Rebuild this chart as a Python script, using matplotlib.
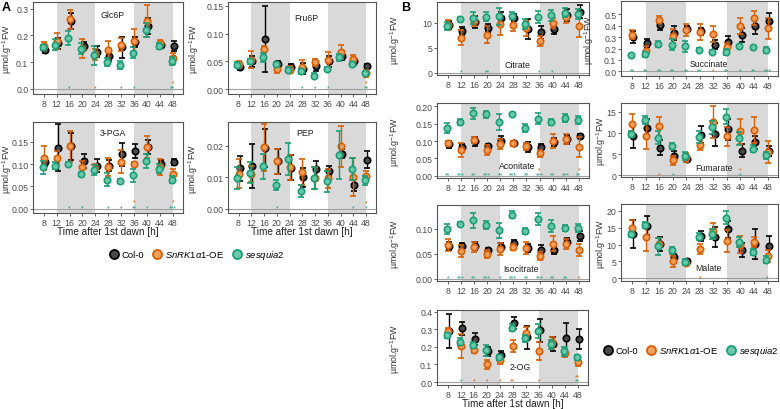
import matplotlib.pyplot as plt
from matplotlib.lines import Line2D

plt.rcParams['font.family'] = ['Liberation Sans', 'DejaVu Sans']
plt.rcParams['mathtext.fontset'] = 'custom'
plt.rcParams['mathtext.it'] = 'Liberation Sans:italic'
plt.rcParams['mathtext.rm'] = 'Liberation Sans'

times = [8, 12, 16, 20, 24, 28, 32, 36, 40, 44, 48]
xticks = times
dark_periods = [(12, 24), (36, 48)]

# Glc6P
glc6p_col = [0.146, 0.171, 0.255, 0.161, 0.139, 0.124, 0.155, 0.176, 0.235, 0.164, 0.160]
glc6p_col_err = [0.010, 0.020, 0.030, 0.015, 0.020, 0.020, 0.040, 0.020, 0.030, 0.010, 0.018]
glc6p_oe = [0.160, 0.180, 0.260, 0.150, 0.130, 0.145, 0.165, 0.180, 0.255, 0.170, 0.115]
glc6p_oe_err = [0.015, 0.030, 0.035, 0.035, 0.020, 0.035, 0.025, 0.045, 0.060, 0.012, 0.020]
glc6p_ses = [0.155, 0.165, 0.190, 0.150, 0.125, 0.100, 0.090, 0.135, 0.220, 0.160, 0.105]
glc6p_ses_err = [0.010, 0.020, 0.025, 0.020, 0.035, 0.015, 0.015, 0.020, 0.025, 0.010, 0.015]

# Fru6P
fru6p_col = [0.040, 0.050, 0.090, 0.045, 0.040, 0.037, 0.041, 0.050, 0.060, 0.050, 0.042]
fru6p_col_err = [0.005, 0.010, 0.060, 0.005, 0.006, 0.010, 0.008, 0.010, 0.008, 0.006, 0.004]
fru6p_oe = [0.045, 0.053, 0.073, 0.037, 0.035, 0.040, 0.048, 0.053, 0.067, 0.055, 0.028]
fru6p_oe_err = [0.005, 0.015, 0.005, 0.008, 0.006, 0.012, 0.006, 0.013, 0.013, 0.006, 0.006]
fru6p_ses = [0.044, 0.050, 0.057, 0.045, 0.035, 0.032, 0.024, 0.036, 0.057, 0.045, 0.028]
fru6p_ses_err = [0.004, 0.005, 0.008, 0.004, 0.004, 0.005, 0.004, 0.004, 0.006, 0.004, 0.003]

# 3-PGA
pga_col = [0.105, 0.137, 0.140, 0.107, 0.097, 0.097, 0.122, 0.130, 0.139, 0.100, 0.105]
pga_col_err = [0.010, 0.053, 0.030, 0.015, 0.015, 0.012, 0.025, 0.015, 0.015, 0.010, 0.006]
pga_oe = [0.114, 0.115, 0.140, 0.093, 0.090, 0.094, 0.106, 0.100, 0.139, 0.093, 0.078]
pga_oe_err = [0.027, 0.015, 0.035, 0.015, 0.010, 0.020, 0.025, 0.005, 0.025, 0.018, 0.012]
pga_ses = [0.093, 0.096, 0.100, 0.078, 0.087, 0.065, 0.062, 0.075, 0.107, 0.090, 0.065]
pga_ses_err = [0.015, 0.008, 0.005, 0.005, 0.012, 0.015, 0.005, 0.015, 0.015, 0.010, 0.008]

# PEP
pep_col = [0.0128, 0.0135, 0.0192, 0.0150, 0.0130, 0.0100, 0.0127, 0.0120, 0.0175, 0.0077, 0.0155]
pep_col_err = [0.0040, 0.0070, 0.0060, 0.0040, 0.0040, 0.0030, 0.0025, 0.0015, 0.0015, 0.0020, 0.0027]
pep_oe = [0.0112, 0.0110, 0.0195, 0.0150, 0.0132, 0.0117, 0.0098, 0.0097, 0.0198, 0.0100, 0.0105]
pep_oe_err = [0.0045, 0.0025, 0.0075, 0.0040, 0.0040, 0.0040, 0.0035, 0.0030, 0.0065, 0.0060, 0.0015]
pep_ses = [0.0098, 0.0115, 0.0135, 0.0075, 0.0157, 0.0057, 0.0097, 0.0088, 0.0170, 0.0125, 0.0090]
pep_ses_err = [0.0035, 0.0032, 0.0040, 0.0015, 0.0050, 0.0020, 0.0035, 0.0033, 0.0075, 0.0035, 0.0015]

# Citrate
cit_col = [9.5, 8.4, 10.2, 9.0, 10.9, 11.0, 8.7, 8.1, 8.8, 11.5, 12.2]
cit_col_err = [0.8, 0.8, 1.2, 0.8, 1.3, 0.7, 2.0, 1.3, 1.0, 1.2, 1.3]
cit_oe = [9.6, 7.0, 10.3, 7.6, 9.7, 9.6, 8.9, 6.3, 9.9, 11.2, 9.4]
cit_oe_err = [1.0, 1.5, 1.0, 1.7, 2.1, 1.3, 1.5, 1.0, 1.0, 1.2, 2.2]
cit_ses = [9.3, 10.8, 10.9, 11.2, 11.3, 11.4, 9.7, 11.1, 11.5, 12.0, 11.7]
cit_ses_err = [0.8, 0.4, 1.2, 0.9, 1.7, 0.7, 1.0, 1.2, 1.1, 0.9, 1.0]

# Succinate
suc_col = [0.300, 0.245, 0.405, 0.335, 0.370, 0.350, 0.235, 0.255, 0.320, 0.400, 0.440]
suc_col_err = [0.050, 0.035, 0.040, 0.060, 0.030, 0.030, 0.040, 0.050, 0.060, 0.070, 0.070]
suc_oe = [0.320, 0.180, 0.450, 0.310, 0.360, 0.345, 0.330, 0.210, 0.400, 0.465, 0.375]
suc_oe_err = [0.040, 0.040, 0.030, 0.060, 0.050, 0.070, 0.070, 0.040, 0.070, 0.060, 0.090]
suc_ses = [0.145, 0.150, 0.240, 0.235, 0.220, 0.190, 0.170, 0.170, 0.220, 0.210, 0.190]
suc_ses_err = [0.010, 0.020, 0.030, 0.050, 0.050, 0.015, 0.020, 0.030, 0.015, 0.015, 0.025]

# Aconitate
aco_col = [0.090, 0.083, 0.100, 0.087, 0.100, 0.093, 0.083, 0.083, 0.097, 0.105, 0.114]
aco_col_err = [0.010, 0.008, 0.013, 0.003, 0.014, 0.005, 0.015, 0.008, 0.012, 0.013, 0.006]
aco_oe = [0.093, 0.073, 0.103, 0.074, 0.091, 0.093, 0.085, 0.065, 0.100, 0.105, 0.083]
aco_oe_err = [0.008, 0.020, 0.010, 0.015, 0.015, 0.008, 0.010, 0.010, 0.020, 0.014, 0.030]
aco_ses = [0.137, 0.155, 0.180, 0.178, 0.155, 0.177, 0.137, 0.165, 0.155, 0.167, 0.160]
aco_ses_err = [0.015, 0.010, 0.015, 0.010, 0.022, 0.005, 0.012, 0.015, 0.010, 0.012, 0.012]

# Fumarate
fum_col = [9.3, 11.2, 6.5, 4.5, 3.8, 9.5, 9.6, 10.8, 5.8, 7.8, 5.7]
fum_col_err = [2.8, 2.0, 1.8, 1.2, 0.7, 2.0, 2.8, 2.5, 1.5, 1.5, 1.2]
fum_oe = [12.0, 9.3, 11.5, 3.5, 4.2, 7.2, 12.5, 9.2, 10.3, 10.6, 5.5]
fum_oe_err = [2.5, 3.0, 2.3, 1.0, 1.0, 1.2, 3.8, 2.2, 3.0, 3.0, 2.5]
fum_ses = [9.6, 13.0, 8.8, 7.0, 4.5, 9.0, 11.3, 13.8, 8.7, 6.3, 4.7]
fum_ses_err = [0.7, 1.0, 1.5, 0.7, 1.0, 1.5, 1.5, 1.7, 1.5, 0.8, 0.8]

# Isocitrate
iso_col = [0.065, 0.065, 0.066, 0.057, 0.063, 0.072, 0.062, 0.058, 0.058, 0.074, 0.086]
iso_col_err = [0.008, 0.006, 0.008, 0.005, 0.008, 0.006, 0.008, 0.010, 0.008, 0.008, 0.010]
iso_oe = [0.068, 0.055, 0.063, 0.049, 0.060, 0.064, 0.061, 0.046, 0.070, 0.070, 0.058]
iso_oe_err = [0.012, 0.012, 0.010, 0.008, 0.012, 0.006, 0.012, 0.008, 0.015, 0.010, 0.012]
iso_ses = [0.099, 0.110, 0.117, 0.107, 0.097, 0.128, 0.095, 0.119, 0.105, 0.101, 0.101]
iso_ses_err = [0.010, 0.004, 0.015, 0.008, 0.015, 0.007, 0.006, 0.012, 0.012, 0.006, 0.008]

# Malate
mal_col = [13.1, 15.6, 10.2, 6.3, 5.2, 12.5, 12.2, 14.5, 8.4, 10.2, 9.5]
mal_col_err = [4.2, 2.7, 2.0, 0.8, 0.6, 1.5, 3.0, 2.5, 2.0, 4.5, 3.0]
mal_oe = [15.0, 12.2, 10.3, 5.0, 4.6, 8.7, 14.0, 11.1, 10.0, 10.8, 6.5]
mal_oe_err = [2.3, 4.0, 1.5, 1.7, 0.8, 1.5, 2.5, 3.3, 2.5, 1.5, 1.8]
mal_ses = [13.0, 15.8, 9.5, 8.3, 4.8, 12.3, 13.0, 18.0, 10.8, 7.8, 5.5]
mal_ses_err = [0.8, 0.8, 2.5, 1.0, 1.0, 1.0, 1.5, 1.8, 1.5, 0.8, 1.0]

# 2-OG
og_col = [0.290, 0.305, 0.245, 0.175, 0.155, 0.335, 0.255, 0.295, 0.215, 0.250, 0.245]
og_col_err = [0.095, 0.035, 0.035, 0.025, 0.020, 0.035, 0.065, 0.065, 0.040, 0.085, 0.055]
og_oe = [0.290, 0.205, 0.185, 0.100, 0.125, 0.205, 0.280, 0.175, 0.225, 0.165, 0.115]
og_oe_err = [0.020, 0.070, 0.020, 0.025, 0.025, 0.035, 0.035, 0.050, 0.030, 0.025, 0.025]
og_ses = [0.265, 0.230, 0.210, 0.180, 0.140, 0.310, 0.250, 0.290, 0.215, 0.175, 0.140]
og_ses_err = [0.015, 0.020, 0.015, 0.030, 0.015, 0.020, 0.020, 0.040, 0.025, 0.025, 0.015]

# significance stars: (time, genotype, number of stars)
glc6p_stars = [(16, 'ses', 1), (24, 'oe', 1), (32, 'ses', 1), (36, 'ses', 1), (48, 'oe', 1), (48, 'ses', 2)]
fru6p_stars = [(28, 'ses', 1), (32, 'ses', 1), (36, 'ses', 1), (48, 'oe', 1), (48, 'ses', 2)]
pga_stars = [(16, 'ses', 1), (20, 'ses', 1), (28, 'ses', 1), (32, 'ses', 1), (36, 'oe', 1), (36, 'ses', 2),
             (40, 'ses', 1), (48, 'oe', 1), (48, 'ses', 3)]
pep_stars = [(20, 'ses', 1), (44, 'ses', 1), (48, 'oe', 1), (48, 'ses', 1)]
cit_stars = [(12, 'ses', 1), (20, 'ses', 2), (36, 'ses', 1), (40, 'ses', 1)]
suc_stars = [(8, 'ses', 2), (12, 'ses', 2), (16, 'ses', 2), (20, 'ses', 2), (24, 'ses', 2), (28, 'ses', 2),
             (32, 'oe', 1), (36, 'ses', 2), (40, 'ses', 1), (44, 'ses', 2), (48, 'ses', 3)]
aco_stars = [(8, 'ses', 2), (12, 'ses', 3), (16, 'ses', 2), (20, 'ses', 3), (24, 'ses', 2), (28, 'ses', 3),
             (32, 'ses', 2), (36, 'oe', 1), (36, 'ses', 3), (40, 'ses', 2), (44, 'ses', 3), (48, 'oe', 1),
             (48, 'ses', 2)]
fum_stars = [(16, 'oe', 1), (20, 'ses', 1), (40, 'oe', 1), (40, 'ses', 1)]
iso_stars = [(8, 'ses', 1), (12, 'ses', 3), (16, 'ses', 2), (20, 'ses', 3), (24, 'ses', 1), (28, 'ses', 3),
             (32, 'ses', 2), (36, 'ses', 3), (40, 'ses', 2), (44, 'ses', 2), (48, 'oe', 1)]
mal_stars = [(28, 'oe', 1), (48, 'ses', 1)]
og_stars = [(12, 'ses', 1), (16, 'oe', 1), (20, 'oe', 1), (24, 'oe', 1), (28, 'oe', 2), (36, 'oe', 1),
            (48, 'oe', 2), (48, 'ses', 2)]

colors = {'col': ('black', '#4a4a4a'), 'oe': ('#D95F02', '#F0A060'), 'ses': ('#1B9E77', '#6CC8A8')}
dodge = {'col': 0.35, 'oe': 0.0, 'ses': -0.35}

# name, data, stars, frame in px (left, right, top, bottom), ylim, yticks, format, title pos, ylabel x px
panels = [
    ('Glc6P', (glc6p_col, glc6p_col_err, glc6p_oe, glc6p_oe_err, glc6p_ses, glc6p_ses_err), glc6p_stars,
     (33, 183, 3, 95), (-0.019, 0.325), [0, 0.1, 0.2, 0.3], '%.1f', (0.53, 0.86), 10),
    ('Fru6P', (fru6p_col, fru6p_col_err, fru6p_oe, fru6p_oe_err, fru6p_ses, fru6p_ses_err), fru6p_stars,
     (228, 376, 3, 95), (-0.009, 0.157), [0, 0.05, 0.10, 0.15], '%.2f', (0.53, 0.83), 197),
    ('3-PGA', (pga_col, pga_col_err, pga_oe, pga_oe_err, pga_ses, pga_ses_err), pga_stars,
     (33, 183, 123, 214), (-0.01, 0.195), [0, 0.05, 0.10, 0.15], '%.2f', (0.53, 0.88), 10),
    ('PEP', (pep_col, pep_col_err, pep_oe, pep_oe_err, pep_ses, pep_ses_err), pep_stars,
     (228, 376, 123, 214), (-0.0013, 0.0275), [0, 0.01, 0.02], '%.2f', (0.52, 0.89), 196),
    ('Citrate', (cit_col, cit_col_err, cit_oe, cit_oe_err, cit_ses, cit_ses_err), cit_stars,
     (437, 589, 3, 76), (-0.4, 14.1), [0, 5, 10], '%d', (0.53, 0.15), 398),
    ('Succinate', (suc_col, suc_col_err, suc_oe, suc_oe_err, suc_ses, suc_ses_err), suc_stars,
     (621, 778, 2, 77), (-0.04, 0.615), [0, 0.1, 0.2, 0.3, 0.4, 0.5], '%.1f', (0.56, 0.16), 592),
    ('Aconitate', (aco_col, aco_col_err, aco_oe, aco_oe_err, aco_ses, aco_ses_err), aco_stars,
     (437, 589, 104, 179), (-0.007, 0.21), [0, 0.05, 0.10, 0.15, 0.20], '%.2f', (0.53, 0.16), 398),
    ('Fumarate', (fum_col, fum_col_err, fum_oe, fum_oe_err, fum_ses, fum_ses_err), fum_stars,
     (621, 778, 104, 178), (-0.4, 17), [0, 5, 10, 15], '%d', (0.59, 0.13), 604),
    ('Isocitrate', (iso_col, iso_col_err, iso_oe, iso_oe_err, iso_ses, iso_ses_err), iso_stars,
     (437, 589, 206, 282), (-0.005, 0.148), [0, 0.05, 0.10], '%.2f', (0.55, 0.17), 398),
    ('Malate', (mal_col, mal_col_err, mal_oe, mal_oe_err, mal_ses, mal_ses_err), mal_stars,
     (621, 778, 205, 282), (-0.8, 22), [0, 5, 10, 15, 20], '%d', (0.56, 0.17), 604),
    ('2-OG', (og_col, og_col_err, og_oe, og_oe_err, og_ses, og_ses_err), og_stars,
     (437, 588, 311, 386), (-0.017, 0.41), [0, 0.1, 0.2, 0.3, 0.4], '%.1f', (0.55, 0.25), 398),
]

W, H = 780, 410
fig = plt.figure(figsize=(W / 100, H / 100), dpi=100)

tick_color = '#4d4d4d'
for name, data, stars, (l, r, t, b), ylim, yticks, fmt, tpos, ylx in panels:
    ax = fig.add_axes([l / W, 1 - b / H, (r - l) / W, (b - t) / H])
    for x0, x1 in dark_periods:
        ax.axvspan(x0, x1, color='#d9d9d9', lw=0, zorder=0)
    ax.axhline(0, color='#a0a0a0', lw=0.8, zorder=1)
    for i, g in enumerate(['col', 'oe', 'ses']):
        edge, fill = colors[g]
        xs = [tt + dodge[g] for tt in times]
        ax.errorbar(xs, data[2 * i], yerr=data[2 * i + 1], fmt='o', color=edge, ecolor=edge,
                    mfc=fill, mec=edge, ms=4.6, mew=1.2, elinewidth=1.0, capsize=2.3, capthick=1.0,
                    zorder=3 + i)
    # stars near the baseline
    span = ylim[1] - ylim[0]
    for tt, g, n in stars:
        both = g == 'oe' and any(s[0] == tt and s[1] == 'ses' for s in stars)
        yy = 0.07 * span if both else 0.01 * span
        ax.text(tt, yy, '*' * n, color=colors[g][0], fontsize=5, ha='center', va='center', zorder=6)
    ax.set_xlim(4.7, 51.1)
    ax.set_ylim(*ylim)
    ax.set_xticks(xticks)
    ax.set_xticklabels([str(v) for v in xticks])
    ax.set_yticks(yticks)
    ax.set_yticklabels([fmt % v for v in yticks])
    ax.tick_params(labelsize=6.3, colors=tick_color, length=2.2, width=0.6, pad=1.2)
    for s in ax.spines.values():
        s.set_color('#555555')
        s.set_linewidth(0.8)
    ax.set_ylabel(r'µmol.g$^{-1}$FW', fontsize=6.4, color='#333333')
    ax.yaxis.set_label_coords((ylx + 4 - l) / (r - l), 0.5)
    ax.text(tpos[0], tpos[1], name, transform=ax.transAxes, ha='center', va='center', fontsize=6.3,
            color='#222222', zorder=7)
    if name in ('3-PGA', 'PEP', '2-OG'):
        ax.set_xlabel('Time after 1st dawn [h]', fontsize=7.2, color='#222222')
        ax.xaxis.set_label_coords(0.5, -13.5 / (b - t))

fig.text(2 / W, 1 - 8 / H, 'A', fontsize=9, fontweight='bold', va='center')
fig.text(401 / W, 1 - 8 / H, 'B', fontsize=9, fontweight='bold', va='center')

handles = [Line2D([], [], marker='o', ls='', ms=6.5, mfc=colors[g][1], mec=colors[g][0], mew=1.3)
           for g in ['col', 'oe', 'ses']]
labels = ['Col-0', r'$\it{SnRK1α1}$-OE', r'$\it{sesquia2}$']
for cx, cy in [(197, 256), (691, 352)]:
    fig.legend(handles, labels, loc='center', bbox_to_anchor=(cx / W, 1 - cy / H), ncol=3, frameon=False,
               fontsize=6.8, handlelength=1.0, handletextpad=0.3, columnspacing=0.9, borderpad=0)

fig.savefig('out.png', dpi=100)
